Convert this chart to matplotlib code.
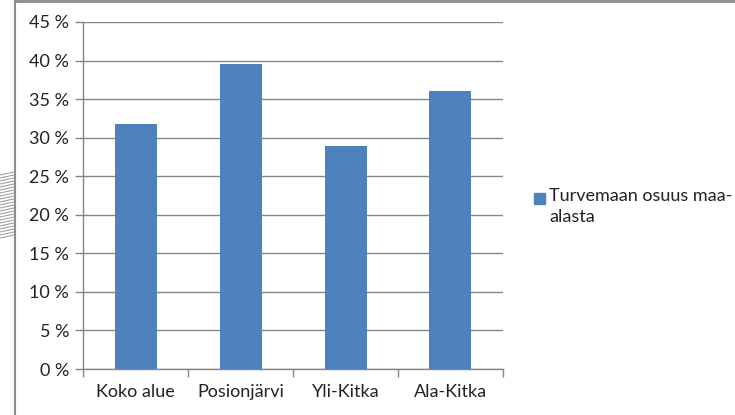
import matplotlib
matplotlib.use("Agg")
import matplotlib.pyplot as plt
from matplotlib.lines import Line2D
from matplotlib.patches import Rectangle
from matplotlib.ticker import FixedLocator, FuncFormatter
import numpy as np

categories = ["Koko alue", "Posionjärvi", "Yli-Kitka", "Ala-Kitka"]
shares = [31.8, 39.6, 28.9, 36.0]
series_name = "Turvemaan osuus maa-\nalasta"
y_ticks = [0, 5, 10, 15, 20, 25, 30, 35, 40, 45]

BLUE = "#4f81bd"
GREY = "#868686"
TEXT = "#222222"

plt.rcParams["font.family"] = ["Lato", "DejaVu Sans"]

W, H = 735, 415
fig = plt.figure(figsize=(W / 100, H / 100), dpi=100)
ax = fig.add_axes([83 / W, 1 - 369 / H, 420 / W, (369 - 22) / H])

x = np.arange(len(categories))
ax.bar(x, shares, width=0.4, color=BLUE, zorder=3, label=series_name)
ax.set_xlim(-0.5, len(categories) - 0.5)
ax.set_ylim(0, 45)

ax.set_yticks(y_ticks)
ax.yaxis.set_major_formatter(FuncFormatter(lambda v, _: f"{v:.0f} %"))
ax.grid(axis="y", color=GREY, linewidth=1.0, zorder=0)
ax.set_xticks(x)
ax.set_xticklabels(categories)
ax.xaxis.set_minor_locator(FixedLocator(np.arange(-0.5, len(categories), 1.0)))
ax.tick_params(axis="x", which="major", length=0, pad=11, labelsize=13, colors=TEXT)
ax.tick_params(axis="x", which="minor", length=6, width=1, color=GREY, direction="out")
ax.tick_params(axis="y", length=6, width=1, color=GREY, labelsize=13,
               labelcolor=TEXT, pad=4)

for side in ("top", "right"):
    ax.spines[side].set_visible(False)
for side in ("left", "bottom"):
    ax.spines[side].set_color(GREY)
    ax.spines[side].set_linewidth(1.0)

# legend: marker sits beside the first line of the two-line label
fig.add_artist(Rectangle((534 / W, 1 - 204 / H), 11 / W, 11 / H, color=BLUE,
                         transform=fig.transFigure))
fig.text(549 / W, 1 - 188 / H, series_name, fontsize=13, color=TEXT,
         ha="left", va="top", linespacing=1.42)

# frame of the surrounding slide
fig.add_artist(Line2D([15 / W, 15 / W], [0, 1], color="#8c8c8c", lw=1.5,
                      transform=fig.transFigure))
fig.add_artist(Line2D([15 / W, 1], [1 - 1.5 / H, 1 - 1.5 / H], color="#8c8c8c", lw=2,
                      transform=fig.transFigure))
# hatched decoration on the left edge
for yy in range(172, 236, 3):
    fig.add_artist(Line2D([0, 14 / W], [1 - (yy + 3) / H, 1 - yy / H], color="#a0a0a0",
                          lw=0.8, transform=fig.transFigure))

fig.savefig("out.png", dpi=100)
